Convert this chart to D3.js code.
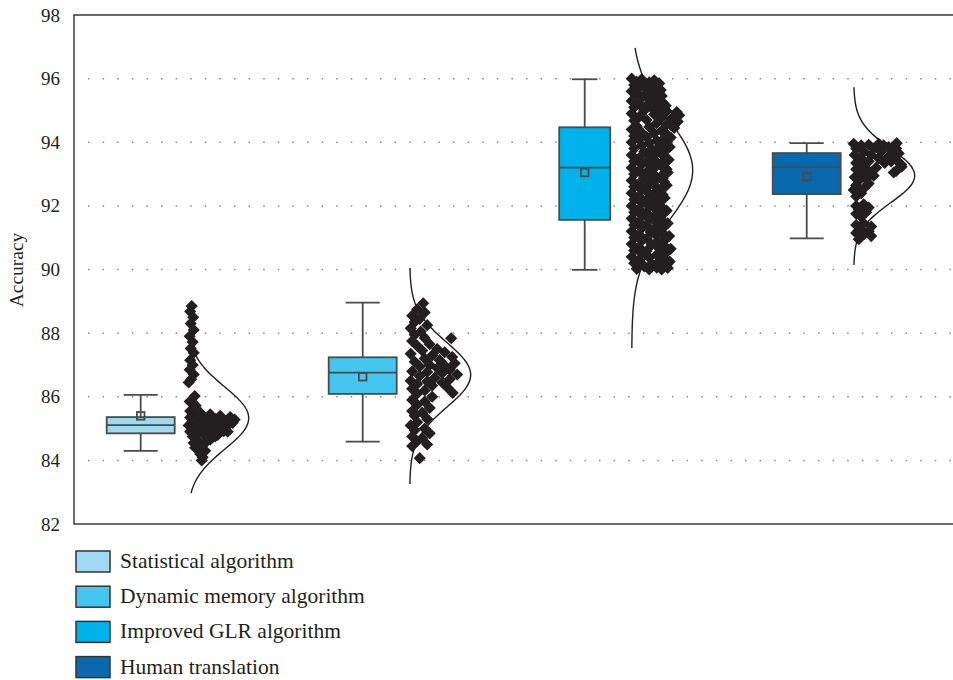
<!DOCTYPE html>
<html>
<head>
<meta charset="utf-8">
<script src="https://cdn.jsdelivr.net/npm/d3@7"></script>
<style>
body{margin:0;background:#fff;}
text{font-family:"Liberation Serif",serif;fill:#231f20;}
</style>
</head>
<body>
<div id="chart"></div>
<script>
var w=953,h=680;

// categories and box statistics
var groups=["Statistical algorithm","Dynamic memory algorithm","Improved GLR algorithm","Human translation"];
var colors=["#9fd9f3","#45c6f1","#00b2eb","#0a68ad"];
var boxLow=[84.30,84.59,89.99,90.98];
var boxQ1=[84.85,86.09,91.56,92.37];
var boxMedian=[85.11,86.76,93.20,93.22];
var boxQ3=[85.36,87.24,94.47,93.66];
var boxHigh=[86.06,88.96,95.98,93.97];
var boxMean=[85.40,86.63,93.05,92.92];

// normal curve fitted beside each cloud
var curveMean=[85.33,86.69,93.12,92.95];
var curveSd=[0.98,1.02,1.6,0.85];
var curveLo=[82.97,83.26,87.53,90.14];
var curveHi=[87.75,90.05,96.97,95.73];

var yTicks=[82,84,86,88,90,92,94,96,98];
var gridTicks=[84,86,88,90,92,94,96];

// raw points: [accuracy, jitter]
var pts1=[[88.85,0.08],[88.68,0.05],[88.5,0.11],[88.3,0.06],[88.1,0.12],[87.9,0.04],[87.72,0.1],[87.52,0.06],[87.38,0.12],[87.15,0.05],[87.0,0.1],[86.85,0.04],[86.7,0.12],[86.55,0.07],[86.45,0.02],[86.02,0.14],[85.85,0.04],[85.72,0.16],
[85.55,0.05],[85.5,0.25],[85.45,0.1],[85.45,0.45],[85.4,0.65],[85.4,0.3],[85.36,0.85],[85.35,0.05],[85.3,0.55],[85.3,0.2],[85.28,0.94],[85.25,0.4],[85.24,0.75],[85.2,0.1],[85.2,0.6],[85.18,0.9],[85.15,0.3],[85.12,0.5],[85.1,0.02],[85.1,0.8],[85.08,0.2],[85.05,0.65],[85.02,0.4],[85.0,0.1],[84.98,0.55],[84.95,0.3],[84.92,0.72],[84.9,0.05],[84.88,0.45],[84.85,0.2],[84.8,0.6],[84.78,0.35],[84.75,0.1],[84.7,0.4],[84.6,0.22],[84.5,0.32],[84.4,0.15],[84.3,0.35],[84.2,0.25],[84.1,0.3],[84.0,0.28],
[84.85,0.5],[84.75,0.55],[84.65,0.45],[84.55,0.12],[84.45,0.28],[84.9,0.8]];
var pts2=[[88.94,0.27],[88.75,0.15],[88.65,0.3],[88.55,0.05],[88.45,0.2],[88.35,0.1],[88.25,0.35],[88.15,0.02],[88.05,0.22],[87.95,0.1],[87.84,0.83],[87.85,0.3],[87.75,0.05],[87.65,0.4],[87.6,0.15],[87.5,0.55],[87.45,0.25],[87.4,0.7],[87.35,0.02],[87.3,0.45],[87.25,0.85],[87.2,0.3],[87.15,0.6],[87.1,0.1],[87.05,0.9],[87.0,0.4],[86.98,0.7],[86.95,0.2],[86.9,0.55],[86.85,0.8],[86.8,0.05],[86.78,0.35],[86.75,0.65],[86.7,0.95],[86.65,0.2],[86.6,0.5],[86.55,0.8],[86.5,0.02],[86.48,0.35],[86.45,0.65],[86.4,0.15],[86.35,0.45],[86.3,0.75],[86.25,0.05],[86.2,0.3],[86.12,0.86],[86.1,0.15],[86.0,0.45],[85.9,0.05],[85.85,0.3],[85.75,0.15],[85.65,0.4],[85.55,0.05],[85.5,0.25],[85.4,0.1],[85.3,0.35],[85.2,0.15],[85.1,0.02],[85.0,0.3],[84.95,0.1],[84.85,0.4],[84.75,0.05],[84.7,0.25],[84.6,0.15],[84.5,0.35],[84.45,0.05],[84.07,0.2]];
var pts3=[[96.0,0.0],[95.98,0.2],[95.95,0.45],[95.9,0.1],[95.88,0.35],[95.8,0.05],[95.78,0.25],[95.75,0.5],[95.7,0.15],[95.66,0.4],[95.64,0.58],[95.6,0.0],[95.55,0.3],[95.5,0.1],[95.48,0.45],[95.45,0.6],[95.4,0.2],[95.36,0.35],[95.3,0.0],[95.28,0.5],[95.25,0.62],[95.2,0.15],[95.16,0.3],[95.1,0.05],[95.08,0.4],[95.05,0.55],[95.0,0.25],[94.98,0.7],[94.95,0.9],[94.9,0.0],[94.88,0.45],[94.85,0.95],[94.8,0.15],[94.78,0.6],[94.75,0.8],[94.7,0.3],[94.68,0.05],[94.65,0.92],[94.6,0.5],[94.56,0.7],[94.5,0.1],[94.48,0.35],[94.45,0.85],[94.4,0.0],[94.36,0.6],[94.3,0.2],[94.28,0.45],[94.25,0.7],[94.2,0.05],[94.16,0.3],[94.12,0.65],[94.1,0.15],[94.05,0.5],[94.0,0.0],[93.98,0.35],[93.95,0.7],[93.9,0.2],[93.86,0.55],[93.8,0.05],[93.78,0.4],[93.75,0.68],[93.7,0.25],[93.66,0.5],[93.6,0.0],[93.58,0.35],[93.55,0.65],[93.5,0.15],[93.46,0.45],[93.4,0.05],[93.38,0.3],[93.35,0.6],[93.3,0.2],[93.26,0.5],[93.2,0.0],[93.18,0.4],[93.15,0.7],[93.1,0.15],[93.06,0.3],[93.0,0.05],[92.98,0.45],[92.95,0.6],[92.9,0.25],[92.86,0.5],[92.8,0.0],[92.78,0.35],[92.75,0.65],[92.7,0.15],[92.66,0.45],[92.6,0.05],[92.58,0.3],[92.55,0.6],[92.5,0.2],[92.46,0.5],[92.4,0.0],[92.38,0.35],[92.35,0.62],[92.3,0.15],[92.26,0.45],[92.2,0.05],[92.18,0.3],[92.15,0.55],[92.1,0.2],[92.06,0.4],[92.0,0.0],[91.98,0.35],[91.95,0.6],[91.9,0.15],[91.86,0.5],[91.8,0.05],[91.78,0.3],[91.75,0.62],[91.7,0.2],[91.66,0.45],[91.6,0.0],[91.58,0.35],[91.55,0.6],[91.5,0.15],[91.46,0.5],[91.4,0.05],[91.38,0.3],[91.35,0.65],[91.3,0.2],[91.26,0.45],[91.2,0.0],[91.18,0.38],[91.15,0.62],[91.1,0.15],[91.06,0.5],[91.0,0.05],[90.98,0.3],[90.95,0.68],[90.9,0.2],[90.86,0.5],[90.8,0.0],[90.78,0.4],[90.75,0.65],[90.7,0.15],[90.66,0.55],[90.6,0.05],[90.58,0.3],[90.55,0.7],[90.5,0.2],[90.46,0.5],[90.4,0.0],[90.38,0.35],[90.35,0.65],[90.3,0.15],[90.26,0.55],[90.2,0.05],[90.18,0.4],[90.15,0.7],[90.1,0.25],[90.06,0.5],[90.02,0.1],[90.0,0.35],[90.0,0.6],
[95.85,0.55],[95.55,0.55],[95.15,0.68],[94.55,0.78],[94.15,0.78],[93.85,0.76],[93.45,0.74],[93.05,0.72],[92.65,0.7],[92.25,0.66],[91.85,0.7],[91.45,0.72],[91.05,0.75],[90.65,0.78],[90.25,0.76],[90.05,0.72],[94.0,0.6],[93.65,0.62],[93.25,0.6],[92.85,0.62],[92.45,0.58],[92.05,0.55],[91.65,0.58],[91.25,0.56],[90.85,0.6],[90.45,0.62]];
var pts4=[[93.95,0.0],[93.9,0.15],[93.92,0.3],[93.95,0.5],[93.97,0.86],[93.9,0.6],[93.85,0.7],[93.8,0.85],[93.8,0.05],[93.8,0.4],[93.75,0.75],[93.7,0.2],[93.7,0.55],[93.65,0.9],[93.6,0.02],[93.6,0.35],[93.6,0.8],[93.55,0.7],[93.5,0.15],[93.5,0.5],[93.45,0.85],[93.4,0.3],[93.4,0.75],[93.35,0.05],[93.35,0.62],[93.3,0.95],[93.25,0.2],[93.23,0.96],[93.2,0.45],[93.15,0.05],[93.1,0.3],[93.1,0.85],[93.05,0.8],[93.0,0.15],[92.95,0.4],[92.9,0.02],[92.85,0.25],[92.8,0.1],[92.7,0.3],[92.65,0.05],[92.55,0.2],[92.5,0.0],[92.4,0.15],[92.3,0.05],[92.05,0.2],[92.0,0.05],[91.95,0.3],[91.9,0.1],[91.8,0.25],[91.75,0.05],[91.65,0.15],[91.45,0.2],[91.4,0.05],[91.35,0.35],[91.25,0.15],[91.2,0.3],[91.15,0.05],[91.1,0.2],[91.05,0.35],[90.95,0.1]];
var points=[pts1,pts2,pts3,pts4];

var plotLeft=74,plotTop=15,plotBottom=524;

var svg=d3.select("#chart")
.append("svg")
.attr("width",w)
.attr("height",h);

var x=d3.scalePoint().domain(groups).range([140.7,806.7]);
var y=d3.scaleLinear().domain([82,98]).range([plotBottom,plotTop]);

// dotted grid
svg.selectAll("line.grid")
.data(gridTicks)
.enter()
.append("line")
.attr("class","grid")
.attr("x1",88).attr("x2",w)
.attr("y1",function(d){return y(d)})
.attr("y2",function(d){return y(d)})
.style("stroke","#8a8a8a")
.style("stroke-width",1.5)
.style("stroke-dasharray","1.5,13.1");

// frame
svg.append("path")
.attr("d","M"+w+","+plotTop+"H"+plotLeft+"V"+plotBottom+"H"+w)
.style("fill","none")
.style("stroke","#3a3a3a")
.style("stroke-width",1.5);

var yAxis=svg.append("g")
.attr("transform","translate("+plotLeft+",0)")
.call(d3.axisLeft(y).tickValues(yTicks).tickSize(0).tickPadding(14));
yAxis.select(".domain").remove();
yAxis.selectAll("text").style("font-size","19px").style("font-family","Liberation Serif").style("fill","#231f20");

svg.append("text")
.text("Accuracy")
.attr("transform","translate(23,270) rotate(-90)")
.attr("text-anchor","middle")
.style("font-size","19.5px");

// normal curves
var line=d3.line().curve(d3.curveBasis);
groups.forEach(function(g,i){
	var base=x(g)+47, amp=61, pts=[];
	var n=120, step=(curveHi[i]-curveLo[i])/n;
	for(var k=0;k<=n;k++){
		var v=curveLo[i]+k*step, z=(v-curveMean[i])/curveSd[i];
		pts.push([base+amp*Math.exp(-0.5*z*z), y(v)]);
	}
	svg.append("path")
	.attr("d",line(pts))
	.style("fill","none")
	.style("stroke","#231f20")
	.style("stroke-width",1.4);
});

// point clouds
var diamond=d3.symbol().type(d3.symbolSquare).size(74);
groups.forEach(function(g,i){
	svg.append("g").selectAll("path")
	.data(points[i])
	.enter()
	.append("path")
	.attr("d",diamond)
	.attr("transform",function(d){return "translate("+(x(g)+47+d[1]*50)+","+y(d[0])+") rotate(45)"})
	.style("fill","#231f20");
});

// boxes
var boxW=[68,68,51,68];
var boxStroke="#4a4a4a";
groups.forEach(function(g,i){
	var cx=x(g), bw=boxW[i], gb=svg.append("g");
	gb.append("line").attr("x1",cx).attr("x2",cx).attr("y1",y(boxHigh[i])).attr("y2",y(boxQ3[i]));
	gb.append("line").attr("x1",cx).attr("x2",cx).attr("y1",y(boxQ1[i])).attr("y2",y(boxLow[i]));
	gb.append("line").attr("x1",cx-bw/4).attr("x2",cx+bw/4).attr("y1",y(boxHigh[i])).attr("y2",y(boxHigh[i]));
	gb.append("line").attr("x1",cx-bw/4).attr("x2",cx+bw/4).attr("y1",y(boxLow[i])).attr("y2",y(boxLow[i]));
	gb.append("rect")
	.attr("x",cx-bw/2).attr("width",bw)
	.attr("y",y(boxQ3[i])).attr("height",y(boxQ1[i])-y(boxQ3[i]))
	.style("fill",colors[i]);
	gb.append("line").attr("x1",cx-bw/2).attr("x2",cx+bw/2).attr("y1",y(boxMedian[i])).attr("y2",y(boxMedian[i]));
	gb.append("rect")
	.attr("x",cx-3.8).attr("width",7.6)
	.attr("y",y(boxMean[i])-3.8).attr("height",7.6)
	.style("fill","none");
	gb.selectAll("line,rect").style("stroke",boxStroke).style("stroke-width",1.8);
});

// legend
var legend=svg.selectAll("g.legend")
.data(groups)
.enter()
.append("g")
.attr("class","legend")
.attr("transform",function(d,i){return "translate(76,"+(551+i*35.2)+")"});
legend.append("rect")
.attr("width",34).attr("height",21)
.style("fill",function(d,i){return colors[i]})
.style("stroke","#333")
.style("stroke-width",1.5);
legend.append("text")
.text(function(d){return d})
.attr("x",44).attr("y",17)
.style("font-size","21.5px");
</script>
</body>
</html>
